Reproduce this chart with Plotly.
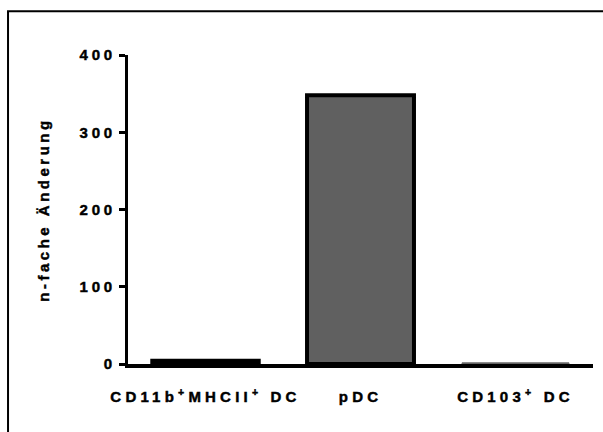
import plotly.graph_objects as go

categories = ["CD11b+MHCII+ DC", "pDC", "CD103+ DC"]
values = [4.5, 348, 1.5]
tick_vals = [0, 100, 200, 300, 400]


def spaced(s, ls):
    return (f'<b><span style="letter-spacing:{ls}px;stroke:black;'
            f'stroke-width:0.45px">{s}</span></b>')

cat_text = [
    spaced("CD11b<sup>+</sup>MHCII<sup>+</sup> DC", 4.2),
    spaced("pDC", 4.2),
    spaced("CD103<sup>+</sup> DC", 4.2),
]
y_text = [spaced(str(v), 3.8) for v in tick_vals]

FONT = "Arial, Liberation Sans, sans-serif"
FS = 15

fig = go.Figure(
    go.Bar(
        x=categories,
        y=values,
        width=0.69,
        marker=dict(
            color=["#000000", "#606060", "#5a5a5a"],
            line=dict(color=["#000000", "#000000", "#6a6a6a"], width=[3.5, 4, 1]),
        ),
    )
)

fig.update_layout(
    width=603,
    height=432,
    margin=dict(l=128, r=10, t=55, b=68),
    plot_bgcolor="white",
    paper_bgcolor="white",
    showlegend=False,
    font=dict(family=FONT, size=FS, color="black"),
    xaxis=dict(
        type="category",
        categoryorder="array",
        categoryarray=categories,
        tickvals=categories,
        ticktext=cat_text,
        range=[-0.5, 2.5],
        showline=True,
        linecolor="black",
        linewidth=4,
        ticks="",
        showgrid=False,
        zeroline=False,
        tickfont=dict(family=FONT, size=FS, color="black"),
        ticklabelstandoff=16,
    ),
    yaxis=dict(
        range=[0, 400],
        tickvals=tick_vals,
        ticktext=y_text,
        showline=True,
        linecolor="black",
        linewidth=3,
        ticks="outside",
        ticklen=6,
        tickwidth=3,
        tickcolor="black",
        showgrid=False,
        zeroline=False,
        tickfont=dict(family=FONT, size=FS, color="black"),
        title=dict(
            text=spaced("n-fache Änderung", 3.5),
            font=dict(family=FONT, size=FS, color="black"),
            standoff=27,
        ),
    ),
    shapes=[
        dict(
            type="rect",
            xref="paper",
            yref="paper",
            x0=-0.258,
            x1=1.2,
            y0=-0.4,
            y1=1.1415,
            line=dict(color="black", width=2),
            fillcolor="rgba(0,0,0,0)",
            layer="below",
        )
    ],
)

fig.write_html("out.html")
